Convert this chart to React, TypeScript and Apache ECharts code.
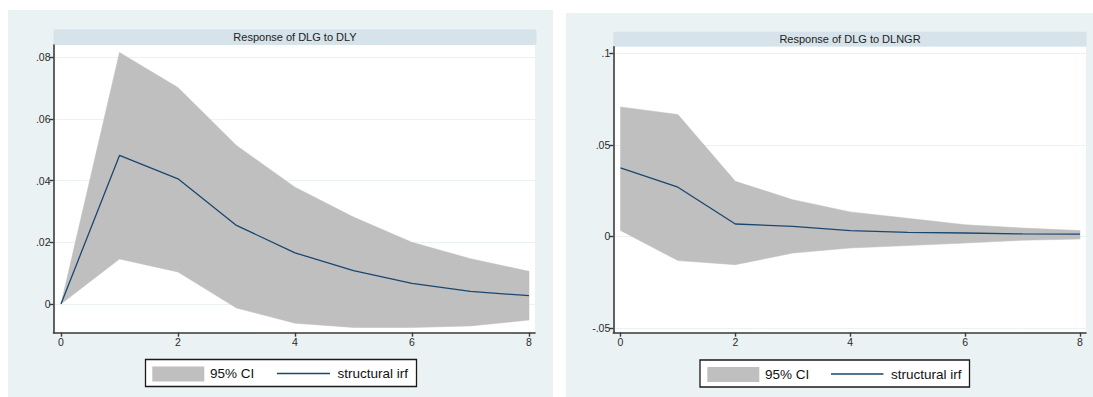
import React, { useEffect, useRef } from "react";
import * as echarts from "echarts";

const steps = [0, 1, 2, 3, 4, 5, 6, 7, 8];

const dlyIrf = [0, 0.0482, 0.0406, 0.0255, 0.0166, 0.0108, 0.0067, 0.0041, 0.0027];
const dlyLower = [0, 0.0146, 0.0104, -0.0013, -0.0062, -0.0076, -0.0076, -0.0071, -0.0052];
const dlyUpper = [0, 0.0816, 0.0702, 0.0514, 0.0379, 0.0282, 0.02, 0.0147, 0.0106];

const dlngrIrf = [0.0374, 0.0268, 0.0067, 0.0054, 0.0031, 0.0021, 0.0018, 0.0013, 0.0012];
const dlngrLower = [0.0032, -0.0133, -0.0155, -0.0092, -0.0064, -0.0051, -0.0037, -0.0022, -0.0015];
const dlngrUpper = [0.0707, 0.0665, 0.03, 0.02, 0.0133, 0.0098, 0.0063, 0.0045, 0.0031];

const xTicks = [0, 2, 4, 6, 8];
const dlyTicks = [0, 0.02, 0.04, 0.06, 0.08];
const dlngrTicks = [-0.05, 0, 0.05, 0.1];

const titles = ["Response of DLG to DLY", "Response of DLG to DLNGR"];
const legendLabels = ["95% CI", "structural irf"];

const PANEL = "#EAF2F3";
const STRIP = "#D6E3EA";
const BAND = "#BFBFBF";
const NAVY = "#1A476F";
const AXIS = "#3a3a3a";
const FONT = "Liberation Sans, Arial, sans-serif";

const fmt = (v: number) => {
  if (Math.abs(v) < 1e-12) return "0";
  return String(+v.toFixed(4)).replace(/^(-?)0\./, "$1.");
};

export default function App() {
  const ref = useRef<HTMLDivElement>(null);
  useEffect(() => {
    if (!ref.current) return;
    const chart = echarts.init(ref.current, null, { renderer: "svg" });

    const xAxisBase = (gridIndex: number, min: number, max: number) => ({
      type: "value",
      gridIndex,
      min,
      max,
      z: 8,
      axisLine: { show: true, onZero: false, lineStyle: { color: AXIS, width: 1.6 } },
      axisTick: { show: true, length: 4, customValues: xTicks, lineStyle: { color: AXIS, width: 1.4 } },
      axisLabel: {
        customValues: xTicks,
        formatter: fmt,
        color: "#2a2a2a",
        fontSize: 10.5,
        fontFamily: FONT,
        margin: 4,
      },
      splitLine: { show: false },
    });
    const yAxisBase = (gridIndex: number, min: number, max: number, ticks: number[]) => ({
      type: "value",
      gridIndex,
      min,
      max,
      z: 8,
      axisLine: { show: true, onZero: false, lineStyle: { color: AXIS, width: 1.6 } },
      axisTick: { show: true, length: 4, customValues: ticks, lineStyle: { color: AXIS, width: 1.4 } },
      axisLabel: {
        customValues: ticks,
        formatter: fmt,
        color: "#2a2a2a",
        fontSize: 10.5,
        fontFamily: FONT,
        margin: 3,
      },
      splitLine: { show: false },
    });

    const panelSeries = (idx: number, irf: number[], lower: number[], upper: number[], ticks: number[]) => [
      {
        type: "line",
        xAxisIndex: idx,
        yAxisIndex: idx,
        data: [],
        z: 1,
        silent: true,
        markLine: {
          silent: true,
          z: 1,
          symbol: "none",
          label: { show: false },
          lineStyle: { color: PANEL, width: 1.2, type: "solid" },
          data: ticks.map((t) => ({ yAxis: t })),
        },
      },
      {
        type: "custom",
        xAxisIndex: idx,
        yAxisIndex: idx,
        data: steps.map((s, i) => [s, lower[i], upper[i]]),
        encode: { x: 0, y: [1, 2] },
        z: 3,
        silent: true,
        renderItem: (params: any, api: any) => {
          if (params.dataIndex !== 0) return null;
          const top = steps.map((s, i) => api.coord([s, upper[i]]));
          const bottom = steps.map((s, i) => api.coord([s, lower[i]])).reverse();
          return {
            type: "polygon",
            shape: { points: top.concat(bottom) },
            style: { fill: BAND, stroke: BAND, lineWidth: 0.5 },
          };
        },
      },
      {
        type: "line",
        xAxisIndex: idx,
        yAxisIndex: idx,
        data: steps.map((s, i) => [s, irf[i]]),
        symbol: "none",
        lineStyle: { color: NAVY, width: 1.3 },
        z: 4,
        silent: true,
      },
    ];

    const legend = (bx: number, by: number, bw: number, sx: number, t1x: number, lx1: number, lx2: number, t2x: number) => [
      {
        type: "rect",
        shape: { x: bx, y: by, width: bw, height: 27 },
        style: { fill: "#fff", stroke: "#1a1a1a", lineWidth: 1.3 },
        z: 10,
      },
      {
        type: "rect",
        shape: { x: sx, y: by + 7, width: 52, height: 15 },
        style: { fill: BAND },
        z: 11,
      },
      {
        type: "text",
        x: t1x,
        y: by + 14,
        style: { text: legendLabels[0], fill: "#111", font: `13.5px ${FONT}`, textVerticalAlign: "middle" },
        z: 11,
      },
      {
        type: "line",
        shape: { x1: lx1, y1: by + 14, x2: lx2, y2: by + 14 },
        style: { stroke: NAVY, lineWidth: 1.3 },
        z: 11,
      },
      {
        type: "text",
        x: t2x,
        y: by + 14,
        style: { text: legendLabels[1], fill: "#111", font: `13.5px ${FONT}`, textVerticalAlign: "middle" },
        z: 11,
      },
    ];

    chart.setOption({
      animation: false,
      backgroundColor: "#ffffff",
      graphic: [
        { type: "rect", shape: { x: 8, y: 10, width: 545, height: 387 }, style: { fill: PANEL }, z: -10 },
        { type: "rect", shape: { x: 566, y: 13, width: 527, height: 384 }, style: { fill: PANEL }, z: -10 },
        { type: "rect", shape: { x: 53.5, y: 29.3, width: 483, height: 15.7, r: 2 }, style: { fill: STRIP }, z: -9 },
        { type: "rect", shape: { x: 613.3, y: 31.7, width: 473.4, height: 15, r: 2 }, style: { fill: STRIP }, z: -9 },
        {
          type: "text",
          x: 295,
          y: 37.3,
          style: { text: titles[0], fill: "#222", font: `11px ${FONT}`, textAlign: "center", textVerticalAlign: "middle" },
          z: 5,
        },
        {
          type: "text",
          x: 850,
          y: 39.4,
          style: { text: titles[1], fill: "#222", font: `11px ${FONT}`, textAlign: "center", textVerticalAlign: "middle" },
          z: 5,
        },
        ...legend(145.5, 359.5, 271, 152.3, 210, 277, 330, 337.5),
        ...legend(700, 360, 269.5, 707.3, 765, 831, 883.5, 891),
      ],
      grid: [
        { left: 53.5, top: 45, width: 481.5, height: 287.7, show: true, backgroundColor: "#fff", borderWidth: 0, z: 0 },
        { left: 613.3, top: 46.7, width: 472.7, height: 286, show: true, backgroundColor: "#fff", borderWidth: 0, z: 0 },
      ],
      xAxis: [xAxisBase(0, -0.128, 8.103), xAxisBase(1, -0.125, 8.105)],
      yAxis: [yAxisBase(0, -0.0093, 0.084, dlyTicks), yAxisBase(1, -0.0527, 0.1036, dlngrTicks)],
      series: [
        ...panelSeries(0, dlyIrf, dlyLower, dlyUpper, dlyTicks),
        ...panelSeries(1, dlngrIrf, dlngrLower, dlngrUpper, dlngrTicks),
      ],
    });

    return () => chart.dispose();
  }, []);

  return <div ref={ref} style={{ position: "absolute", left: 0, top: 0, width: 1093, height: 397 }} />;
}
